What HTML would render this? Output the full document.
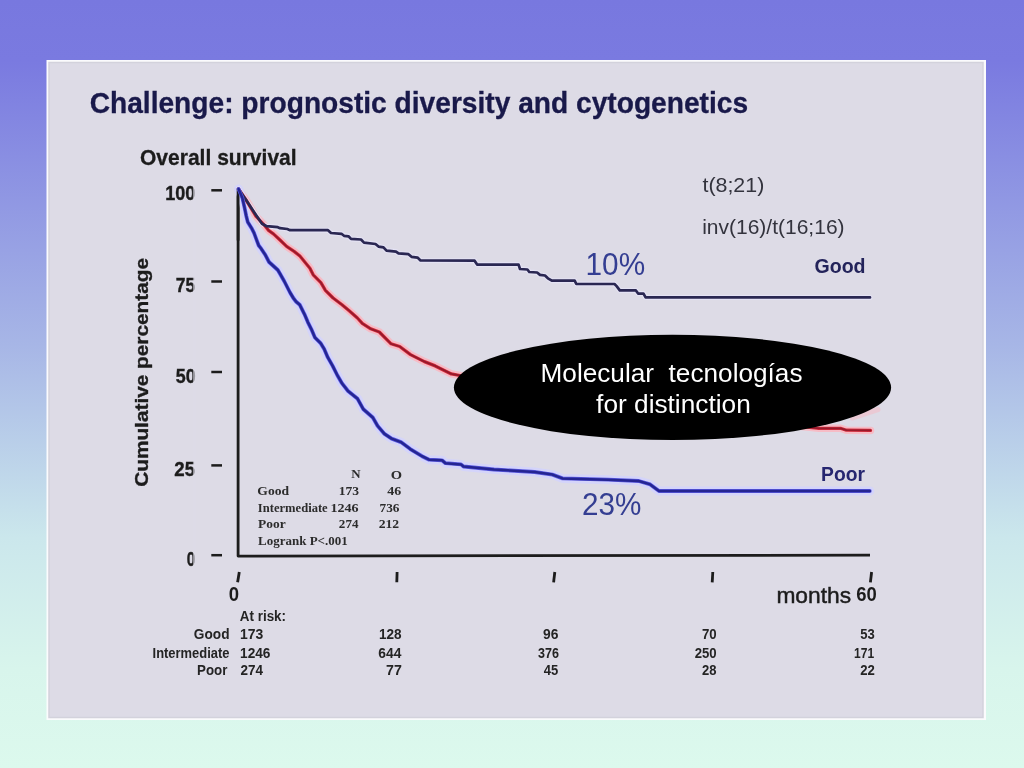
<!DOCTYPE html>
<html><head><meta charset="utf-8"><style>
html,body{margin:0;padding:0;width:1024px;height:768px;overflow:hidden;}
body{background:linear-gradient(180deg,#7878df 0%,#7a7ae0 8%,#a7b6e6 45%,#cbe7ec 70%,#d8f5ec 87%,#dcf9ed 100%);}
svg{position:absolute;left:0;top:0;display:block;filter:blur(0.5px);}
.s{font-family:"Liberation Sans",sans-serif;}
.r{font-family:"Liberation Serif",serif;}
</style></head><body>
<svg width="1024" height="768" viewBox="0 0 1024 768">
<rect x="46.5" y="60" width="939.5" height="660" fill="#fbfbfd"/>
<rect x="49" y="62.5" width="934" height="655" fill="#dddbe6" stroke="#d3d2dc" stroke-width="1.5"/>
<text class="s" x="89.67" y="113.3" font-size="29" font-weight="bold" fill="#19194a" textLength="658.44" lengthAdjust="spacingAndGlyphs" stroke="#19194a" stroke-width="0.3">Challenge: prognostic diversity and cytogenetics</text>
<text class="s" x="139.96" y="165.4" font-size="22" font-weight="bold" fill="#1c1c1c" textLength="156.70" lengthAdjust="spacingAndGlyphs" stroke="#1c1c1c" stroke-width="0.3">Overall survival</text>
<g transform="translate(148.3,486) rotate(-90)"><text class="s" x="-0.83" y="0" font-size="19" font-weight="bold" fill="#1c1c1c" textLength="228.93" lengthAdjust="spacingAndGlyphs" stroke="#1c1c1c" stroke-width="0.35">Cumulative percentage</text></g>
<text class="s" x="165.22" y="200.3" font-size="20.5" font-weight="bold" fill="#1c1c1c" textLength="30.07" lengthAdjust="spacingAndGlyphs" stroke="#1c1c1c" stroke-width="0.4">100</text>
<text class="s" x="175.80" y="292.4" font-size="20.5" font-weight="bold" fill="#1c1c1c" textLength="19.37" lengthAdjust="spacingAndGlyphs" stroke="#1c1c1c" stroke-width="0.4">75</text>
<text class="s" x="175.86" y="382.8" font-size="20.5" font-weight="bold" fill="#1c1c1c" textLength="19.89" lengthAdjust="spacingAndGlyphs" stroke="#1c1c1c" stroke-width="0.4">50</text>
<text class="s" x="174.35" y="475.6" font-size="20.5" font-weight="bold" fill="#1c1c1c" textLength="20.76" lengthAdjust="spacingAndGlyphs" stroke="#1c1c1c" stroke-width="0.4">25</text>
<text class="s" x="186.69" y="566" font-size="20.5" font-weight="bold" fill="#1c1c1c" textLength="8.55" lengthAdjust="spacingAndGlyphs" stroke="#1c1c1c" stroke-width="0.4">0</text>
<rect x="192.9" y="186" width="3.2" height="384" fill="#dddbe6" opacity="0.62"/>
<g stroke="#1c1c1c" stroke-width="2.5"><line x1="211.3" y1="190.3" x2="222" y2="190.3"/><line x1="211.3" y1="281.5" x2="222" y2="281.5"/><line x1="211.3" y1="372" x2="222" y2="372"/><line x1="211.3" y1="465.4" x2="222" y2="465.4"/><line x1="211.3" y1="555.2" x2="222" y2="555.2"/></g>
<path d="M238.1 189 V556.1 L870 555.2" fill="none" stroke="#1c1c1c" stroke-width="2.8" stroke-linejoin="round"/>
<g stroke="#1c1c1c" stroke-width="2.8"><line x1="239.3" y1="572" x2="237.6" y2="582.3"/><line x1="397.1" y1="572" x2="396.8" y2="582.3"/><line x1="554.8" y1="572" x2="553.6" y2="582.3"/><line x1="712.8" y1="572" x2="712.2" y2="582.3"/><line x1="871.6" y1="572" x2="870.4" y2="582.3"/></g>
<text class="s" x="228.66" y="601" font-size="20.5" font-weight="bold" fill="#1c1c1c" textLength="10.30" lengthAdjust="spacingAndGlyphs">0</text>
<text class="s" x="776.42" y="603.2" font-size="22" fill="#1c1c1c" textLength="74.66" lengthAdjust="spacingAndGlyphs" stroke="#1c1c1c" stroke-width="0.45">months</text>
<text class="s" x="856.35" y="601" font-size="20" font-weight="bold" fill="#1c1c1c" textLength="20.53" lengthAdjust="spacingAndGlyphs">60</text>
<g fill="none" stroke-linejoin="round" stroke-linecap="round">
<path d="M238.5 189 L246.6 200.8 L256 216.4 L263.2 223.8 L268.6 230.4 L273.7 234.1 L280 240 L286.6 246.4 L294.4 251.6 L299.9 256 L305.4 262.7 L309.9 268.2 L313.2 274.8 L320.9 282.6 L325.4 290.3 L333.1 298 L342 304.7 L348.6 310.2 L357.4 318 L362.3 323.4 L370.7 328.8 L379.3 332 L391.1 343.8 L399.7 346.5 L410.5 354.6 L424.4 361.6 L435.2 365.9 L451.3 373.9 L459.9 375.5 L600 405 L819 428.3 L840.5 428.3 L846.4 430.2 L870.5 430.4" stroke="#f6bcc6" stroke-width="7.5"/>
<path d="M238.6 189 L242.3 197.7 L244.6 207.9 L246.2 215.7 L247.7 221.9 L251.6 228.2 L254 232.9 L256.3 239.1 L258.7 245.5 L261.2 248.7 L265.3 254.9 L269 262 L277.8 270 L280 273.7 L284.4 281.5 L290 292.5 L293.3 298 L296.2 301.8 L299.7 304.7 L304.4 314.1 L307.9 322.3 L311.4 329.3 L314.9 337.5 L320.8 343.4 L324.3 349.2 L327.8 357.4 L332.5 365.6 L337.2 375 L341.9 383.2 L348 391 L357.6 398.8 L363.4 409.3 L372.8 417.5 L377.5 425.7 L384.5 433.9 L391.6 438.6 L400.9 442.1 L410.3 449.1 L422 456.2 L429.1 459.7 L442 460.3 L445.5 463.2 L461 464.4 L463.5 466.5 L494 469.5 L534.6 472 L552.4 474.6 L562.5 478.4 L608.2 479.7 L638.7 481 L650.2 484.4 L659 491 L869.8 491" stroke="#d4d4fa" stroke-width="9"/>
<path d="M238.5 189 L246.6 200.8 L254 212 L262 223.8 L266.7 226.2 L277.8 227.2 L280 228.2 L287.3 229 L290 230.2 L328 230.2 L331 233 L341.5 233.8 L344 235.8 L348.5 236.3 L351 238.9 L361 239.5 L364 242.6 L375.5 244 L378.5 246.6 L383.5 247.4 L386.5 250.6 L396 251.6 L398.5 253.4 L408.5 254.2 L411.5 256.8 L417.5 257.6 L420.5 260.4 L474.6 260.7 L477.1 264.6 L518.6 264.6 L520 269 L527.4 269.5 L529.3 272 L537.1 272.5 L540 274.9 L545 275.5 L547.9 278.3 L551.8 280.7 L574.7 280.7 L576.3 284 L614.5 284 L616.6 286.1 L619.8 290.4 L635.9 290.4 L638.1 293.6 L643.5 293.6 L645.6 297.4 L870 297.4" stroke="#e4e2f4" stroke-width="5"/>
<path d="M238.1 189 V240" stroke="#1c1c1c" stroke-width="2.8"/>
<path d="M238.5 189 L246.6 200.8 L256 216.4 L263.2 223.8 L268.6 230.4 L273.7 234.1 L280 240 L286.6 246.4 L294.4 251.6 L299.9 256 L305.4 262.7 L309.9 268.2 L313.2 274.8 L320.9 282.6 L325.4 290.3 L333.1 298 L342 304.7 L348.6 310.2 L357.4 318 L362.3 323.4 L370.7 328.8 L379.3 332 L391.1 343.8 L399.7 346.5 L410.5 354.6 L424.4 361.6 L435.2 365.9 L451.3 373.9 L459.9 375.5 L600 405 L819 428.3 L840.5 428.3 L846.4 430.2 L870.5 430.4" stroke="#d42c3c" stroke-width="3.3"/>
<path d="M238.5 189 L246.6 200.8 L256 216.4 L263.2 223.8 L268.6 230.4 L273.7 234.1 L280 240 L286.6 246.4 L294.4 251.6 L299.9 256 L305.4 262.7 L309.9 268.2 L313.2 274.8 L320.9 282.6 L325.4 290.3 L333.1 298 L342 304.7 L348.6 310.2 L357.4 318 L362.3 323.4 L370.7 328.8 L379.3 332 L391.1 343.8 L399.7 346.5 L410.5 354.6 L424.4 361.6 L435.2 365.9 L451.3 373.9 L459.9 375.5 L600 405 L819 428.3 L840.5 428.3 L846.4 430.2 L870.5 430.4" stroke="#961a2c" stroke-width="1.8"/>
<path d="M238.5 189 L246.6 200.8 L254 212 L262 223.8 L266.7 226.2 L277.8 227.2 L280 228.2 L287.3 229 L290 230.2 L328 230.2 L331 233 L341.5 233.8 L344 235.8 L348.5 236.3 L351 238.9 L361 239.5 L364 242.6 L375.5 244 L378.5 246.6 L383.5 247.4 L386.5 250.6 L396 251.6 L398.5 253.4 L408.5 254.2 L411.5 256.8 L417.5 257.6 L420.5 260.4 L474.6 260.7 L477.1 264.6 L518.6 264.6 L520 269 L527.4 269.5 L529.3 272 L537.1 272.5 L540 274.9 L545 275.5 L547.9 278.3 L551.8 280.7 L574.7 280.7 L576.3 284 L614.5 284 L616.6 286.1 L619.8 290.4 L635.9 290.4 L638.1 293.6 L643.5 293.6 L645.6 297.4 L870 297.4" stroke="#2a2752" stroke-width="2.7"/>
<path d="M238.6 189 L242.3 197.7 L244.6 207.9 L246.2 215.7 L247.7 221.9 L251.6 228.2 L254 232.9 L256.3 239.1 L258.7 245.5 L261.2 248.7 L265.3 254.9 L269 262 L277.8 270 L280 273.7 L284.4 281.5 L290 292.5 L293.3 298 L296.2 301.8 L299.7 304.7 L304.4 314.1 L307.9 322.3 L311.4 329.3 L314.9 337.5 L320.8 343.4 L324.3 349.2 L327.8 357.4 L332.5 365.6 L337.2 375 L341.9 383.2 L348 391 L357.6 398.8 L363.4 409.3 L372.8 417.5 L377.5 425.7 L384.5 433.9 L391.6 438.6 L400.9 442.1 L410.3 449.1 L422 456.2 L429.1 459.7 L442 460.3 L445.5 463.2 L461 464.4 L463.5 466.5 L494 469.5 L534.6 472 L552.4 474.6 L562.5 478.4 L608.2 479.7 L638.7 481 L650.2 484.4 L659 491 L869.8 491" stroke="#5a5ae0" stroke-width="3.8"/>
<path d="M238.6 189 L242.3 197.7 L244.6 207.9 L246.2 215.7 L247.7 221.9 L251.6 228.2 L254 232.9 L256.3 239.1 L258.7 245.5 L261.2 248.7 L265.3 254.9 L269 262 L277.8 270 L280 273.7 L284.4 281.5 L290 292.5 L293.3 298 L296.2 301.8 L299.7 304.7 L304.4 314.1 L307.9 322.3 L311.4 329.3 L314.9 337.5 L320.8 343.4 L324.3 349.2 L327.8 357.4 L332.5 365.6 L337.2 375 L341.9 383.2 L348 391 L357.6 398.8 L363.4 409.3 L372.8 417.5 L377.5 425.7 L384.5 433.9 L391.6 438.6 L400.9 442.1 L410.3 449.1 L422 456.2 L429.1 459.7 L442 460.3 L445.5 463.2 L461 464.4 L463.5 466.5 L494 469.5 L534.6 472 L552.4 474.6 L562.5 478.4 L608.2 479.7 L638.7 481 L650.2 484.4 L659 491 L869.8 491" stroke="#252592" stroke-width="2.5"/>
</g>
<text class="s" x="702.48" y="191.5" font-size="21" fill="#33333d" textLength="61.82" lengthAdjust="spacingAndGlyphs">t(8;21)</text>
<text class="s" x="702.13" y="233.8" font-size="21" fill="#33333d" textLength="142.45" lengthAdjust="spacingAndGlyphs">inv(16)/t(16;16)</text>
<text class="s" x="814.52" y="273.4" font-size="20.5" font-weight="bold" fill="#23235a" textLength="51.06" lengthAdjust="spacingAndGlyphs">Good</text>
<text class="s" x="821.05" y="480.6" font-size="20.5" font-weight="bold" fill="#262670" textLength="43.90" lengthAdjust="spacingAndGlyphs">Poor</text>
<text class="s" x="585.57" y="274.8" font-size="31.5" fill="#343e92" textLength="59.52" lengthAdjust="spacingAndGlyphs">10%</text>
<text class="s" x="582.12" y="515.3" font-size="31.5" fill="#343e92" textLength="59.37" lengthAdjust="spacingAndGlyphs">23%</text>
<text class="r" x="351.24" y="478.3" font-size="13" font-weight="bold" fill="#2c2c2c" textLength="9.32" lengthAdjust="spacingAndGlyphs">N</text>
<text class="r" x="390.67" y="478.5" font-size="13" font-weight="bold" fill="#2c2c2c" textLength="11.32" lengthAdjust="spacingAndGlyphs">O</text>
<text class="r" x="257.32" y="494.9" font-size="13" font-weight="bold" fill="#2c2c2c" textLength="31.70" lengthAdjust="spacingAndGlyphs">Good</text>
<text class="r" x="338.81" y="494.9" font-size="13" font-weight="bold" fill="#2c2c2c" textLength="20.36" lengthAdjust="spacingAndGlyphs">173</text>
<text class="r" x="387.29" y="494.9" font-size="13" font-weight="bold" fill="#2c2c2c" textLength="13.93" lengthAdjust="spacingAndGlyphs">46</text>
<text class="r" x="257.86" y="512" font-size="13" font-weight="bold" fill="#2c2c2c" textLength="69.84" lengthAdjust="spacingAndGlyphs">Intermediate</text>
<text class="r" x="330.47" y="512" font-size="13" font-weight="bold" fill="#2c2c2c" textLength="28.15" lengthAdjust="spacingAndGlyphs">1246</text>
<text class="r" x="379.57" y="512" font-size="13" font-weight="bold" fill="#2c2c2c" textLength="19.93" lengthAdjust="spacingAndGlyphs">736</text>
<text class="r" x="258.10" y="528" font-size="13" font-weight="bold" fill="#2c2c2c" textLength="27.57" lengthAdjust="spacingAndGlyphs">Poor</text>
<text class="r" x="338.88" y="528" font-size="13" font-weight="bold" fill="#2c2c2c" textLength="19.58" lengthAdjust="spacingAndGlyphs">274</text>
<text class="r" x="378.65" y="528" font-size="13" font-weight="bold" fill="#2c2c2c" textLength="20.49" lengthAdjust="spacingAndGlyphs">212</text>
<text class="r" x="258.11" y="545" font-size="13" font-weight="bold" fill="#2c2c2c" textLength="89.63" lengthAdjust="spacingAndGlyphs">Logrank P&lt;.001</text>
<text class="s" x="239.86" y="621.1" font-size="14" font-weight="bold" fill="#242424" textLength="46.18" lengthAdjust="spacingAndGlyphs">At risk:</text>
<text class="s" x="193.85" y="638.5" font-size="14" font-weight="bold" fill="#242424" textLength="35.64" lengthAdjust="spacingAndGlyphs">Good</text>
<text class="s" x="152.56" y="657.6" font-size="14" font-weight="bold" fill="#242424" textLength="76.91" lengthAdjust="spacingAndGlyphs">Intermediate</text>
<text class="s" x="197.03" y="675.4" font-size="14" font-weight="bold" fill="#242424" textLength="30.34" lengthAdjust="spacingAndGlyphs">Poor</text>
<text class="s" x="240.06" y="638.5" font-size="14" font-weight="bold" fill="#242424" textLength="23.27" lengthAdjust="spacingAndGlyphs">173</text>
<text class="s" x="240.08" y="657.6" font-size="14" font-weight="bold" fill="#242424" textLength="30.39" lengthAdjust="spacingAndGlyphs">1246</text>
<text class="s" x="240.43" y="675.4" font-size="14" font-weight="bold" fill="#242424" textLength="22.49" lengthAdjust="spacingAndGlyphs">274</text>
<text class="s" x="378.98" y="638.5" font-size="14" font-weight="bold" fill="#242424" textLength="22.67" lengthAdjust="spacingAndGlyphs">128</text>
<text class="s" x="378.32" y="657.6" font-size="14" font-weight="bold" fill="#242424" textLength="23.00" lengthAdjust="spacingAndGlyphs">644</text>
<text class="s" x="386.03" y="675.4" font-size="14" font-weight="bold" fill="#242424" textLength="15.77" lengthAdjust="spacingAndGlyphs">77</text>
<text class="s" x="543.02" y="638.5" font-size="14" font-weight="bold" fill="#242424" textLength="15.40" lengthAdjust="spacingAndGlyphs">96</text>
<text class="s" x="538.09" y="657.6" font-size="14" font-weight="bold" fill="#242424" textLength="20.90" lengthAdjust="spacingAndGlyphs">376</text>
<text class="s" x="543.81" y="675.4" font-size="14" font-weight="bold" fill="#242424" textLength="14.45" lengthAdjust="spacingAndGlyphs">45</text>
<text class="s" x="701.97" y="638.5" font-size="14" font-weight="bold" fill="#242424" textLength="14.69" lengthAdjust="spacingAndGlyphs">70</text>
<text class="s" x="694.74" y="657.6" font-size="14" font-weight="bold" fill="#242424" textLength="21.93" lengthAdjust="spacingAndGlyphs">250</text>
<text class="s" x="702.04" y="675.4" font-size="14" font-weight="bold" fill="#242424" textLength="14.48" lengthAdjust="spacingAndGlyphs">28</text>
<text class="s" x="860.31" y="638.5" font-size="14" font-weight="bold" fill="#242424" textLength="14.48" lengthAdjust="spacingAndGlyphs">53</text>
<text class="s" x="854.08" y="657.6" font-size="14" font-weight="bold" fill="#242424" textLength="20.06" lengthAdjust="spacingAndGlyphs">171</text>
<text class="s" x="860.24" y="675.4" font-size="14" font-weight="bold" fill="#242424" textLength="14.62" lengthAdjust="spacingAndGlyphs">22</text>
<path d="M852 418 L878 409.5" stroke="#f0c2cc" stroke-width="5" fill="none" stroke-linecap="round" opacity="0.7"/>
<ellipse cx="672.5" cy="387.4" rx="218.6" ry="52.6" fill="#000"/>
<text class="s" x="540.50" y="382.2" font-size="26" fill="#fff" textLength="262.03" lengthAdjust="spacingAndGlyphs" xml:space="preserve" style="white-space:pre">Molecular  tecnologías</text>
<text class="s" x="596.11" y="413.3" font-size="26" fill="#fff" textLength="154.64" lengthAdjust="spacingAndGlyphs">for distinction</text>
</svg>
</body></html>
